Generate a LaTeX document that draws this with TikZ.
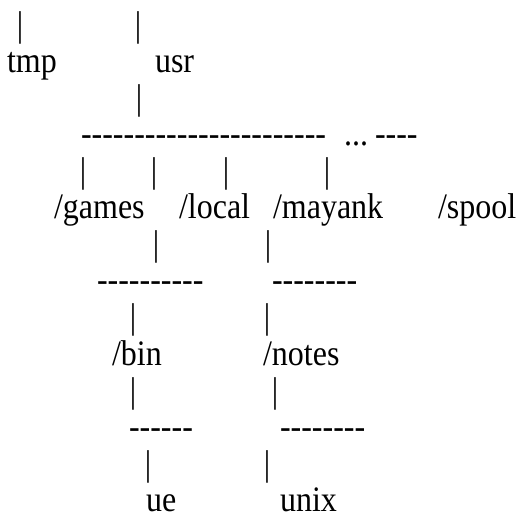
\documentclass[tikz,border=0pt]{standalone}
\usepackage{graphicx}
\usepackage{fontspec}
\setmainfont{Liberation Serif}
\newcommand\hys[1]{\foreach \i in {1,...,#1}{\mbox{-}}}
\newcommand\vs[1]{\scalebox{1}[1.12]{#1}}
\tikzset{
  txt/.style={anchor=base west,inner sep=0pt,outer sep=0pt,font=\fontsize{32}{36}\selectfont},
  bar/.style={anchor=base,inner sep=0pt,outer sep=0pt,font=\fontsize{32}{36}\selectfont}
}
\begin{document}
\begin{tikzpicture}[x=1pt,y=-1pt]
\useasboundingbox (0,0) rectangle (522,514);
% row baselines: 35.6 + 36.6*(k-1)
\node[bar] (p1a) at (20,36) {\vs{|}};
\node[bar] (p1b) at (138,36) {\vs{|}};
\node[txt] (tmp) at (7,72.4) {\vs{tmp}};
\node[txt] (usr) at (155,72.4) {\vs{usr}};
\node[bar] (p3) at (139,109) {\vs{|}};
\node[txt] (d4a) at (81,145.4) {\vs{\hys{23}}};
\node[txt] (d4b) at (344,145.4) {\vs{...}};
\node[txt] (d4c) at (375,145.4) {\vs{\hys{4}}};
\node[bar] (p5a) at (83,182.4) {\vs{|}};
\node[bar] (p5b) at (154,182.4) {\vs{|}};
\node[bar] (p5c) at (226,182.4) {\vs{|}};
\node[bar] (p5d) at (327,182.4) {\vs{|}};
\node[txt] (games) at (54,218.6) {\vs{/games}};
\node[txt] (local) at (179,218.6) {\vs{/local}};
\node[txt] (mayank) at (273,218.6) {\vs{/mayank}};
\node[txt] (spool) at (438,218.6) {\vs{/spool}};
\node[bar] (p7a) at (156,255.6) {\vs{|}};
\node[bar] (p7b) at (268,255.6) {\vs{|}};
\node[txt] (d8a) at (97,291.8) {\vs{\hys{10}}};
\node[txt] (d8b) at (272,291.8) {\vs{\hys{8}}};
\node[bar] (p9a) at (133,328.8) {\vs{|}};
\node[bar] (p9b) at (267,328.8) {\vs{|}};
\node[txt] (bin) at (112,365) {\vs{/bin}};
\node[txt] (notes) at (263,365) {\vs{/notes}};
\node[bar] (p11a) at (133,402) {\vs{|}};
\node[bar] (p11b) at (275,402) {\vs{|}};
\node[txt] (d12a) at (129,438.2) {\vs{\hys{6}}};
\node[txt] (d12b) at (280,438.2) {\vs{\hys{8}}};
\node[bar] (p13a) at (148,475.2) {\vs{|}};
\node[bar] (p13b) at (267,475.2) {\vs{|}};
\node[txt] (ue) at (146,511.2) {\vs{ue}};
\node[txt] (unix) at (280,511.2) {\vs{unix}};
\end{tikzpicture}
\end{document}
